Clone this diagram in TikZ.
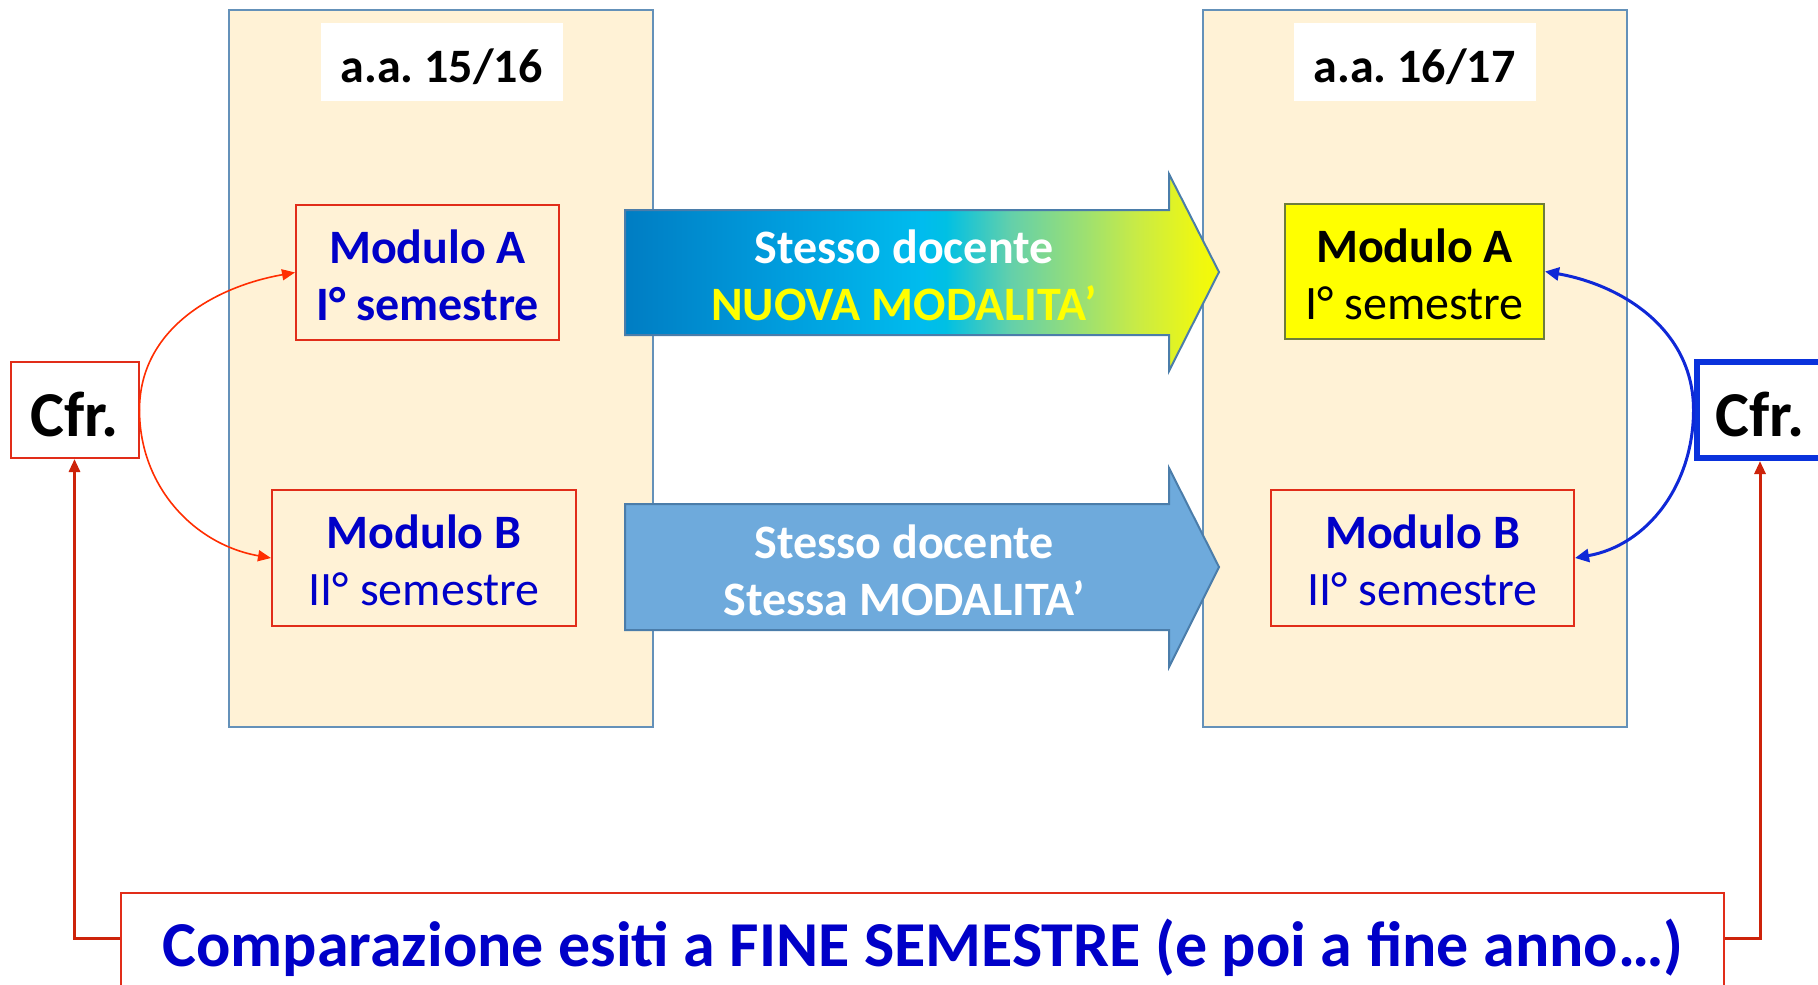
\documentclass[tikz,border=0pt]{standalone}
\usepackage{fontspec}
\setmainfont{Carlito}
\usetikzlibrary{arrows.meta}
\frenchspacing
\definecolor{panelfill}{RGB}{255,242,214}
\definecolor{panelline}{RGB}{100,145,185}
\definecolor{boxred}{RGB}{225,45,25}
\definecolor{txtblue}{RGB}{0,0,200}
\definecolor{arrline}{RGB}{75,125,170}
\definecolor{arrtwofill}{RGB}{110,170,220}
\definecolor{ylw}{RGB}{255,255,0}
\definecolor{ylwline}{RGB}{110,125,60}
\definecolor{curvered}{RGB}{255,45,0}
\definecolor{curveblue}{RGB}{15,40,215}
\definecolor{framered}{RGB}{205,35,10}
\definecolor{cfrblue}{RGB}{10,50,220}
\definecolor{shA}{RGB}{0,125,195}
\definecolor{shB}{RGB}{0,155,220}
\definecolor{shC}{RGB}{0,188,238}
\definecolor{shD}{RGB}{0,192,228}
\definecolor{shE}{RGB}{100,208,170}
\definecolor{shF}{RGB}{160,225,110}
\definecolor{shG}{RGB}{200,235,70}
\definecolor{shH}{RGB}{240,248,15}
\definecolor{shI}{RGB}{245,250,5}
\pgfdeclarehorizontalshading{arrshade}{100bp}{color(0bp)=(shA); color(25bp)=(shA); color(37.5bp)=(shB); color(50bp)=(shC); color(52bp)=(shD); color(57.5bp)=(shE); color(64bp)=(shF); color(68bp)=(shG); color(73.5bp)=(shH); color(75bp)=(shI); color(100bp)=(shI)}
\tikzset{
  panel/.style={draw=panelline, line width=2pt, fill=panelfill, minimum width=424pt, minimum height=717pt, inner sep=0pt},
  yearlbl/.style={fill=white, minimum width=242pt, minimum height=78pt, inner sep=0pt, font=\fontsize{48}{57}\selectfont\bfseries},
  modbox/.style={draw=boxred, line width=2pt, align=center, inner sep=0pt, text=txtblue, font=\fontsize{48}{57}\selectfont},
  ylwbox/.style={modbox, draw=ylwline, fill=ylw, text=black},
  cfrbox/.style={draw=boxred, line width=2pt, fill=white, minimum width=128pt, minimum height=96pt, inner sep=0pt, text height=52pt, text depth=0pt, font=\fontsize{64}{70}\selectfont\bfseries},
  cfrboxb/.style={cfrbox, draw=cfrblue, line width=6pt, minimum width=127pt},
  arrtext/.style={align=center, text=white, font=\fontsize{48}{57}\selectfont\bfseries},
  arrbody/.style={draw=arrline, line width=2pt, line join=miter},
  curvL/.style={draw=curvered, line width=1.6pt, -{Triangle[length=13pt,width=11pt]}},
  curvR/.style={draw=curveblue, line width=3pt, -{Triangle[length=14pt,width=13pt]}},
  frameline/.style={draw=framered, line width=3pt, -{Triangle[length=13pt,width=11pt]}},
  botbox/.style={draw=boxred, line width=2pt, fill=white, minimum width=1603pt, minimum height=200pt, inner sep=0pt},
  bottext/.style={text=txtblue, font=\fontsize{64}{70}\selectfont\bfseries}
}
\begin{document}
\begin{tikzpicture}[x=1pt,y=1pt]
\useasboundingbox (0,0) rectangle (1818,-985);
% panels
\node[panel] (p1) at (441,-368.5) {};
\node[panel] (p2) at (1415,-368.5) {};
\node[yearlbl] (y1) at (441.5,-62) {};
\node[yearlbl] (y2) at (1414.5,-62) {};
\node[font=\fontsize{48}{57}\selectfont\bfseries] (y1t) at (441.5,-66.5) {a.a. 15/16};
\node[font=\fontsize{48}{57}\selectfont\bfseries] (y2t) at (1414.5,-66.5) {a.a. 16/17};
% modules
\node[modbox, minimum width=263pt, minimum height=135pt] (modAL) at (427.5,-272.5) {};
\node[modbox, minimum width=304pt, minimum height=136pt] (modBL) at (424,-558) {};
\node[ylwbox, minimum width=259pt, minimum height=135pt] (modAR) at (1414.5,-271.5) {};
\node[modbox, minimum width=303pt, minimum height=136pt] (modBR) at (1422.5,-558) {};
\node[modbox, draw=none] (modALt) at (427.5,-275) {\textbf{Modulo A}\\\textbf{I° semestre}};
\node[modbox, draw=none] (modBLt) at (424,-560.5) {\textbf{Modulo B}\\II° semestre};
\node[modbox, draw=none, text=black] (modARt) at (1414.5,-274) {\textbf{Modulo A}\\I° semestre};
\node[modbox, draw=none] (modBRt) at (1422.5,-560.5) {\textbf{Modulo B}\\II° semestre};
% big arrows
\path[arrbody, shading=arrshade] (625,-210) -- (1169,-210) -- (1169,-174) -- (1219,-272) -- (1169,-371) -- (1169,-335) -- (625,-335) -- cycle;
\node[arrtext] (t1) at (904,-275.5) {Stesso docente\\\textcolor{ylw}{NUOVA MODALITA’}};
\path[arrbody, fill=arrtwofill] (625,-504) -- (1169,-504) -- (1169,-468) -- (1219,-567) -- (1169,-667) -- (1169,-630) -- (625,-630) -- cycle;
\node[arrtext] (t2) at (904,-570.5) {Stesso docente\\Stessa MODALITA’};
% Cfr boxes
\node[cfrbox] (cfrL) at (74.5,-410) {Cfr.};
\node[cfrboxb] (cfrR) at (1760,-410) {Cfr.};
% curved connectors
\draw[curvL] (cfrL.east) to[out=90,in=190] (modAL.west);
\draw[curvL] (cfrL.east) to[out=-90,in=170] (modBL.west);
\draw[curvR] (cfrR.west) to[out=90,in=-10] (modAR.east);
\draw[curvR] (cfrR.west) to[out=-90,in=10] (modBR.east);
% bottom box
\node[botbox] (bot) at (922.5,-993) {};
\node[bottext, anchor=base] (bt) at (923,-966) {Comparazione esiti a FINE SEMESTRE (e poi a fine anno…)};
\draw[frameline] ([yshift=-46pt]bot.north west) -| (cfrL.south);
\draw[frameline] ([yshift=-46pt]bot.north east) -| (cfrR.south);
\end{tikzpicture}
\end{document}
